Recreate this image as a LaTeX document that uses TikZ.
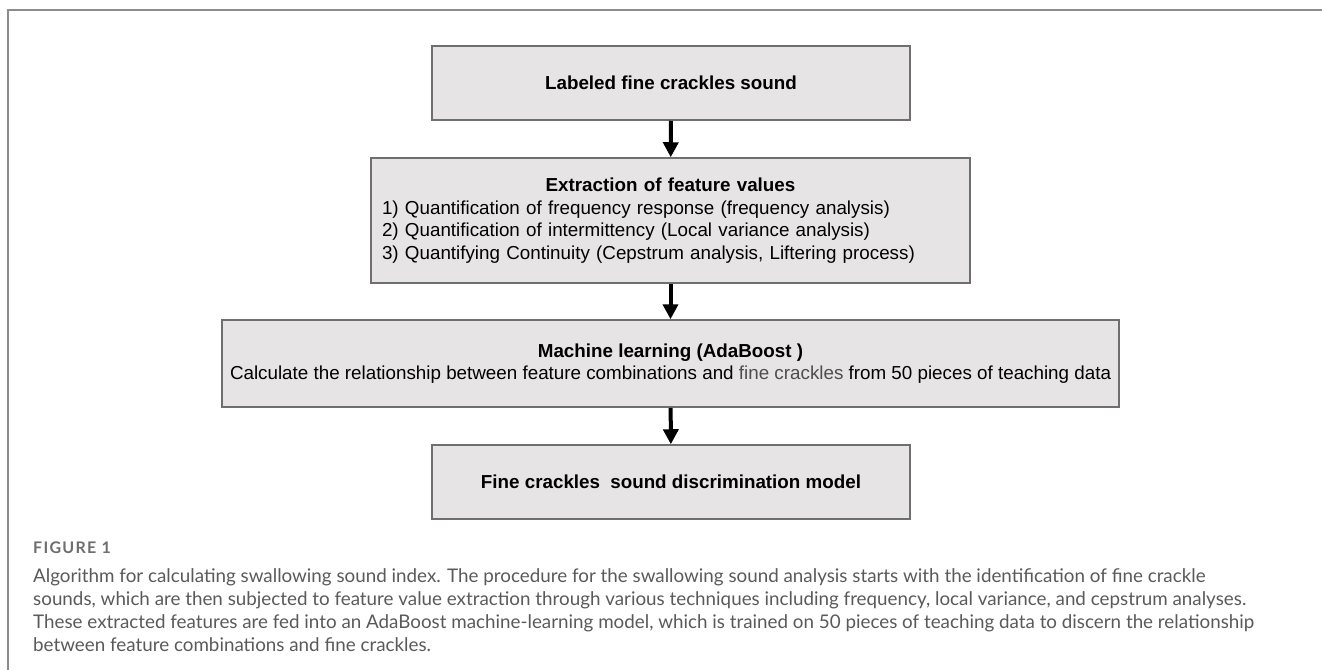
\documentclass[tikz,border=0pt]{standalone}
\usepackage{fontspec}
\setmainfont{Liberation Sans}
\newfontfamily\capfont{Lato}
\newfontfamily\figfont[LetterSpace=8]{Lato}
\usepackage{xcolor}
\usetikzlibrary{arrows.meta}
\definecolor{boxfill}{HTML}{E6E4E5}
\definecolor{boxline}{HTML}{6F6F6F}
\definecolor{framegray}{HTML}{8C8C8C}
\definecolor{captext}{HTML}{5A5A5A}
\definecolor{figgray}{HTML}{6E6E6E}
\definecolor{softtext}{HTML}{4E4E4E}

\begin{document}
\begin{tikzpicture}[x=1pt,y=-1pt,
  box/.style={draw=boxline, fill=boxfill, line width=1.5pt, inner sep=0pt,
    font=\fontsize{18.8}{22.5}\selectfont},
  flow/.style={line width=4pt, -{Triangle[width=15pt,length=15pt]}}]
\useasboundingbox[fill=white] (0,0) rectangle (1322,670);
\draw[framegray, line width=2pt] (8,670) -- (8,10) -- (1322,10);

% flow chart
\node[box, minimum width=478pt, minimum height=74pt] (labeled) at (671,83)
  {\textbf{Labeled fine crackles sound}};
\node[box, minimum width=599pt, minimum height=125pt, text width=577pt, align=left] (extract) at (670.5,220.5)
  {{\centering\textbf{Extraction of feature values}\par}
   1) Quantification of frequency response (frequency analysis)\\
   2) Quantification of intermittency (Local variance analysis)\\
   3) Quantifying Continuity (Cepstrum analysis, Liftering process)};
\node[box, minimum width=897pt, minimum height=87pt, align=center] (learn) at (670.5,363.5)
  {\textbf{Machine learning (AdaBoost )}\\
   Calculate the relationship between feature combinations and {\color{softtext}fine crackles} from 50 pieces of teaching data};
\node[box, minimum width=478pt, minimum height=74pt] (model) at (671,482)
  {\textbf{Fine crackles\hspace{5pt} sound discrimination model}};

\draw[flow] (labeled) -- (extract);
\draw[flow] (extract) -- (learn);
\draw[flow] (learn) -- (model);

% caption
\node[anchor=west, inner sep=0pt, text=figgray, font=\figfont\bfseries\fontsize{16}{18}\selectfont] (figlabel) at (33,548) {FIGURE 1};
\node[anchor=north west, inner sep=0pt, align=left, text=captext, font=\capfont\fontsize{18.8}{23}\selectfont] (caption) at (33,568)
  {Algorithm for calculating swallowing sound index. The procedure for the swallowing sound analysis starts with the identification of fine crackle\\
   sounds, which are then subjected to feature value extraction through various techniques including frequency, local variance, and cepstrum analyses.\\
   These extracted features are fed into an AdaBoost machine-learning model, which is trained on 50 pieces of teaching data to discern the relationship\\
   between feature combinations and fine crackles.};
\end{tikzpicture}
\end{document}
